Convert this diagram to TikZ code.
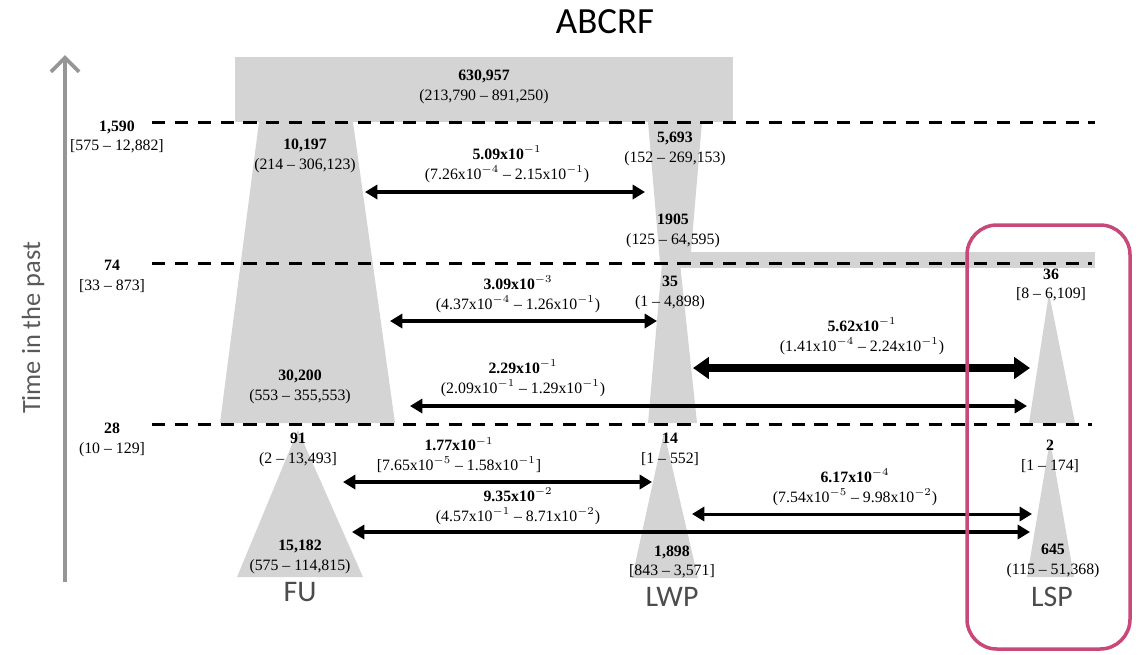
\documentclass[tikz,border=0pt]{standalone}
\usepackage{fontspec}
\setmainfont{Liberation Serif}
\newfontfamily\labelfont{Carlito}
\usetikzlibrary{positioning, arrows.meta}
\definecolor{popgray}{RGB}{212,212,212}
\definecolor{axisgray}{RGB}{150,150,150}
\definecolor{boxpink}{RGB}{200,72,122}

\begin{document}
\begin{tikzpicture}[
    x=0.02cm, y=-0.02cm,
    >={Triangle[length=7pt,width=8pt]},
    pop/.style={fill=popgray, draw=none},
    period/.style={black, line width=1.7pt, dash pattern=on 7.5pt off 5.5pt},
    est/.style={align=center, inner sep=0pt, font=\fontsize{9}{11.3}\selectfont},
    mig/.style={<->, line width=2.8pt},
    popname/.style={font=\labelfont\fontsize{17}{17}\selectfont, text=black!70}
]
\useasboundingbox (0,0) rectangle (1138,654);

% title and time axis
\node[font=\labelfont\fontsize{21}{21}\selectfont] (title) at (605,22) {ABCRF};
\coordinate (axisbot) at (65,582);
\coordinate (axistop) at (65,55);
\draw[axisgray, line width=2.2pt, -{Straight Barb[length=8pt,width=16pt]}] (axisbot) -- (axistop);
\node[font=\labelfont\fontsize{15}{15}\selectfont, text=black!65, rotate=90] (timelbl) at (33,328) {Time in the past};

% populations
\fill[pop] (235,57) rectangle (733,122);
\fill[pop] (680,252) rectangle (1095,268);
\fill[pop] (259,122) -- (353,122) -- (395,423) -- (220,423) -- cycle;
\fill[pop] (298,430) -- (363,577) -- (237,577) -- cycle;
\fill[pop] (648,122) -- (702,122) -- (690,263) -- (660,263) -- cycle;
\fill[pop] (662,263) -- (680,263) -- (697,423) -- (648,423) -- cycle;
\fill[pop] (664,432) -- (698,578) -- (632,578) -- cycle;
\fill[pop] (1049,293) -- (1075,423) -- (1029,423) -- cycle;
\fill[pop] (1050,440) -- (1074,577) -- (1027,577) -- cycle;

% periods
\draw[period] (152,122) -- (1095,122);
\draw[period] (152,263) -- (1092,263);
\draw[period] (152,424) -- (1092,424);

% migration
\coordinate (m1l) at (365,192);
\coordinate (m1r) at (645,192);
\coordinate (m2l) at (390,321);
\coordinate (m2r) at (657,321);
\coordinate (m3l) at (693,368);
\coordinate (m3r) at (1030,368);
\coordinate (m4l) at (410,406);
\coordinate (m4r) at (1027,406);
\coordinate (m5l) at (343,482);
\coordinate (m5r) at (652,482);
\coordinate (m6l) at (692,514);
\coordinate (m6r) at (1032,514);
\coordinate (m7l) at (352,532);
\coordinate (m7r) at (1030,532);
\draw[mig] (m1l) -- (m1r);
\draw[mig] (m2l) -- (m2r);
\draw[mig, line width=4.5pt, {Triangle[length=9pt,width=12pt]}-{Triangle[length=9pt,width=12pt]}] (m3l) -- (m3r);
\draw[mig] (m4l) -- (m4r);
\draw[mig] (m5l) -- (m5r);
\draw[mig, line width=1.7pt] (m6l) -- (m6r);
\draw[mig] (m7l) -- (m7r);

% estimates
\node[est] (thrA) at (117,137) {\textbf{1,590}\\{[575 – 12,882]}};
\node[est] (thrB) at (112,276) {\textbf{74}\\{[33 – 873]}};
\node[est] (thrC) at (112,440) {\textbf{28}\\{(10 – 129]}};
\node[est] (ancPop) at (484,87) {\textbf{630,957}\\(213,790 – 891,250)};
\node[est] (fuA) at (305,156) {\textbf{10,197}\\(214 – 306,123)};
\node[est] (lwpA) at (675,149) {\textbf{5,693}\\(152 – 269,153)};
\node[est] (lwpB) at (673,231) {\textbf{1905}\\(125 – 64,595)};
\node[est] (lwpC) at (670,293) {\textbf{35}\\(1 – 4,898)};
\node[est] (lspA) at (1051,285) {\textbf{36}\\{[8 – 6,109]}};
\node[est] (fuB) at (300,387) {\textbf{30,200}\\(553 – 355,553)};
\node[est] (fuC) at (298,450) {\textbf{91}\\(2 – 13,493]};
\node[est] (lwpD) at (670,449) {\textbf{14}\\{[1 – 552]}};
\node[est] (lspB) at (1050,456) {\textbf{2}\\{[1 – 174]}};
\node[est] (fuD) at (300,557) {\textbf{15,182}\\(575 – 114,815)};
\node[est] (lwpE) at (672,562) {\textbf{1,898}\\{[843 – 3,571]}};
\node[est] (lspC) at (1053,561) {\textbf{645}\\(115 – 51,368)};

\node[est] (m1lbl) at (507,164) {\textbf{5.09x10$^{-1}$}\\(7.26x10$^{-4}$ – 2.15x10$^{-1}$)};
\node[est] (m2lbl) at (518,294) {\textbf{3.09x10$^{-3}$}\\(4.37x10$^{-4}$ – 1.26x10$^{-1}$)};
\node[est] (m3lbl) at (862,336) {\textbf{5.62x10$^{-1}$}\\(1.41x10$^{-4}$ – 2.24x10$^{-1}$)};
\node[est] (m4lbl) at (523,378) {\textbf{2.29x10$^{-1}$}\\(2.09x10$^{-1}$ – 1.29x10$^{-1}$)};
\node[est] (m5lbl) at (459,455) {\textbf{1.77x10$^{-1}$}\\{[7.65x10$^{-5}$ – 1.58x10$^{-1}$]}};
\node[est] (m6lbl) at (855,487) {\textbf{6.17x10$^{-4}$}\\(7.54x10$^{-5}$ – 9.98x10$^{-2}$)};
\node[est] (m7lbl) at (518,506) {\textbf{9.35x10$^{-2}$}\\(4.57x10$^{-1}$ – 8.71x10$^{-2}$)};

% population names
\node[popname] (fu) at (300,592) {FU};
\node[popname] (lwp) at (672,597) {LWP};
\node[popname] (lsp) at (1052,597) {LSP};

% highlight
\draw[boxpink, line width=2pt, rounded corners=17pt] (967,225) rectangle (1130,649);
\end{tikzpicture}
\end{document}
